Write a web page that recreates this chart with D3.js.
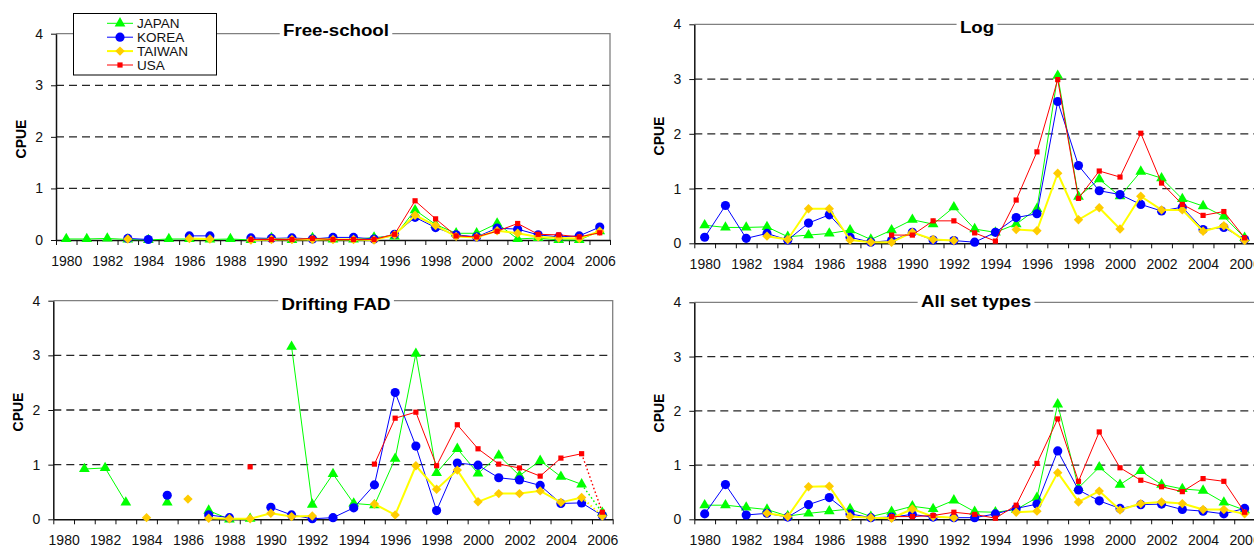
<!DOCTYPE html>
<html>
<head>
<meta charset="utf-8">
<script src="https://cdn.jsdelivr.net/npm/d3@7"></script>
<style>
  html, body { margin: 0; padding: 0; background: #fff; }
  svg { display: block; font-family: "Liberation Sans", Arial, sans-serif; }
</style>
</head>
<body>
<svg id="chart" width="1254" height="547"></svg>
<script>
// ---- data ----
const years = [1980, 1981, 1982, 1983, 1984, 1985, 1986, 1987, 1988, 1989,
               1990, 1991, 1992, 1993, 1994, 1995, 1996, 1997, 1998, 1999,
               2000, 2001, 2002, 2003, 2004, 2005, 2006];
const xLabelYears = [1980, 1982, 1984, 1986, 1988, 1990, 1992, 1994, 1996, 1998, 2000, 2002, 2004, 2006];
const yTicks = [0, 1, 2, 3, 4];
const seriesNames = ["JAPAN", "KOREA", "TAIWAN", "USA"];
const panelTitles = ["Free-school", "Log", "Drifting FAD", "All set types"];
const yAxisTitle = "CPUE";

const freeJapan  = [0.02,0.02,0.03,0.01,0.00,0.02,0.02,0.01,0.02,0.00,0.04,0.00,0.04,0.01,0.01,0.05,0.07,0.58,0.30,0.13,0.13,0.32,0.02,0.04,0.00,0.00,0.17];
const freeKorea  = [null,null,null,0.03,0.01,null,0.08,0.08,null,0.04,0.03,0.04,0.02,0.05,0.05,0.02,0.11,0.44,0.24,0.10,0.06,0.23,0.21,0.10,0.06,0.08,0.25];
const freeTaiwan = [null,null,null,0.02,null,null,0.03,0.02,null,0.00,0.01,0.01,0.01,0.01,0.01,0.00,0.10,0.48,0.28,0.07,0.05,0.18,0.13,0.06,0.04,0.03,0.17];
const freeUsa    = [null,null,null,null,null,null,null,null,null,0.01,0.01,0.01,0.03,0.01,0.01,0.01,0.11,0.76,0.41,0.08,0.06,0.17,0.32,0.11,0.10,0.06,0.14];

const logJapan  = [0.33,0.29,0.29,0.30,0.12,0.15,0.18,0.24,0.07,0.24,0.43,0.35,0.66,0.26,0.20,0.35,0.63,3.06,0.85,1.17,0.86,1.31,1.19,0.81,0.68,0.49,0.10];
const logKorea  = [0.11,0.69,0.09,0.18,0.06,0.37,0.52,0.11,0.02,0.05,0.20,0.06,0.05,0.02,0.20,0.47,0.54,2.59,1.42,0.96,0.89,0.71,0.59,0.66,0.25,0.29,0.07];
const logTaiwan = [null,null,null,0.13,0.07,0.63,0.63,0.06,0.02,0.02,0.20,0.07,0.05,null,null,0.25,0.23,1.28,0.43,0.65,0.26,0.86,0.61,0.61,0.22,0.32,0.05];
const logUsa    = [null,null,null,null,null,null,null,null,null,0.15,0.15,0.41,0.41,0.19,0.04,0.79,1.67,2.99,0.82,1.32,1.21,2.01,1.10,0.71,0.51,0.58,0.10];

const fadJapan  = [null,0.92,0.94,0.31,null,0.31,null,0.16,0.00,0.01,null,3.16,0.27,0.83,0.29,0.26,1.11,3.03,0.85,1.29,0.84,1.17,0.80,1.07,0.78,0.64,0.12];
const fadKorea  = [null,null,null,null,null,0.44,null,0.08,0.03,null,0.22,0.08,0.01,0.03,0.21,0.63,2.32,1.34,0.16,1.03,0.99,0.76,0.72,0.62,0.29,0.30,0.07];
const fadTaiwan = [null,null,null,null,0.03,null,0.37,0.02,0.01,0.01,0.11,0.05,0.06,null,null,0.28,0.08,0.98,0.55,0.90,0.32,0.47,0.47,0.52,0.31,0.40,0.06];
const fadUsa    = [null,null,null,null,null,null,null,null,null,0.96,null,null,null,null,null,1.01,1.85,1.96,0.98,1.73,1.29,1.01,0.94,0.79,1.12,1.20,0.13];
// series whose last segment (2005 -> 2006) is provisional and drawn dotted
const fadProvisional = ["JAPAN", "TAIWAN", "USA"];
// years after which the line is not continued
const fadLineBreaks = { TAIWAN: [1986] };

const allJapan  = [0.26,0.26,0.22,0.18,0.06,0.11,0.15,0.19,0.05,0.14,0.24,0.19,0.35,0.14,0.13,0.18,0.40,2.12,0.58,0.96,0.64,0.89,0.64,0.56,0.53,0.31,0.17];
const allKorea  = [0.10,0.64,0.08,0.11,0.04,0.27,0.40,0.10,0.03,0.04,0.09,0.04,0.03,0.03,0.10,0.20,0.28,1.26,0.54,0.34,0.20,0.27,0.28,0.18,0.15,0.10,0.20];
const allTaiwan = [null,null,null,0.11,0.05,0.60,0.61,0.05,0.03,0.02,0.19,0.05,0.03,null,null,0.13,0.15,0.86,0.32,0.52,0.17,0.29,0.32,0.29,0.18,0.18,0.10];
const allUsa    = [null,null,null,null,null,null,null,null,null,0.05,0.05,0.07,0.13,0.09,0.02,0.26,1.03,1.85,0.70,1.61,0.95,0.72,0.60,0.51,0.75,0.70,0.13];

// ---- appearance ----
const styles = {
  JAPAN:  { line: "#00ff00", width: 1,   fill: "#00ff00", symbol: d3.symbolTriangle, size: 50, rotate: 0 },
  KOREA:  { line: "#0000ff", width: 1,   fill: "#0000ff", symbol: d3.symbolCircle,   size: 66, rotate: 0 },
  TAIWAN: { line: "#ffff00", width: 2,   fill: "#ffcc00", symbol: d3.symbolSquare,   size: 44, rotate: 45 },
  USA:    { line: "#ff0000", width: 1,   fill: "#ff0000", symbol: d3.symbolSquare,   size: 27, rotate: 0 }
};

const panels = [
  { title: panelTitles[0], series: { JAPAN: freeJapan, KOREA: freeKorea, TAIWAN: freeTaiwan, USA: freeUsa },
    l: 56, r: 610, t: 33.7, b: 240, titleX: 336, titleY: 36, cpueX: 21, cpueY: 139, legend: true },
  { title: panelTitles[1], series: { JAPAN: logJapan, KOREA: logKorea, TAIWAN: logTaiwan, USA: logUsa },
    l: 694.3, r: 1255, t: 24.3, b: 243.3, titleX: 977, titleY: 32.7, cpueX: 658.5, cpueY: 136 },
  { title: panelTitles[2], series: { JAPAN: fadJapan, KOREA: fadKorea, TAIWAN: fadTaiwan, USA: fadUsa },
    l: 53.3, r: 612.7, t: 300.7, b: 519.3, titleX: 336, titleY: 309.5, cpueX: 18, cpueY: 412,
    provisional: fadProvisional, breaks: fadLineBreaks },
  { title: panelTitles[3], series: { JAPAN: allJapan, KOREA: allKorea, TAIWAN: allTaiwan, USA: allUsa },
    l: 694.3, r: 1255, t: 302.3, b: 519.3, titleX: 976, titleY: 306.5, cpueX: 658.5, cpueY: 413 }
];

const svg = d3.select("#chart");

function markerPath(name) {
  const st = styles[name];
  return d3.symbol().type(st.symbol).size(st.size)();
}

// split a series into continuous runs (gaps at missing values or explicit breaks)
function runs(pts, breakAfter) {
  const out = [];
  let cur = [];
  pts.forEach(d => {
    if (d.v == null) { if (cur.length) out.push(cur); cur = []; return; }
    cur.push(d);
    if (breakAfter.includes(d.yr)) { out.push(cur); cur = []; }
  });
  if (cur.length) out.push(cur);
  return out;
}

function drawPanel(p) {
  const x = d3.scalePoint().domain(years).range([p.l, p.r]).padding(0.5);
  const y = d3.scaleLinear().domain([0, 4]).range([p.b, p.t]);
  const g = svg.append("g");

  // dashed gridlines
  g.selectAll("line.grid")
    .data(yTicks.filter(v => v > 0 && v < 4))
    .join("line")
    .attr("class", "grid")
    .attr("x1", p.l).attr("x2", p.r)
    .attr("y1", d => y(d)).attr("y2", d => y(d))
    .attr("stroke", "#262626").attr("stroke-width", 1.3)
    .attr("stroke-dasharray", "8,5");

  // plot area frame (top and right)
  g.append("path")
    .attr("d", `M${p.l},${y(4)}H${p.r}V${y(0)}`)
    .attr("fill", "none").attr("stroke", "#808080").attr("stroke-width", 1.3);

  // y axis
  g.append("g")
    .attr("transform", `translate(${p.l},0)`)
    .call(d3.axisLeft(y).tickValues(yTicks).tickSize(5).tickSizeOuter(0).tickPadding(8).tickFormat(d3.format("d")))
    .call(a => {
      a.attr("font-size", 14).attr("font-family", null).attr("color", "#111");
      a.select(".domain").attr("stroke-width", 1.5);
    });

  // x axis: tick marks between categories
  const xb = d3.scaleLinear().domain([0, years.length]).range([p.l, p.r]);
  g.append("g")
    .attr("transform", `translate(0,${p.b})`)
    .call(d3.axisBottom(xb).tickValues(d3.range(0, years.length + 1)).tickSize(5).tickSizeOuter(0).tickFormat(""))
    .call(a => {
      a.attr("color", "#111");
      a.select(".domain").attr("stroke-width", 1.5);
    });

  // x axis: year labels
  g.append("g")
    .attr("transform", `translate(0,${p.b})`)
    .call(d3.axisBottom(x).tickValues(xLabelYears).tickSize(0).tickPadding(16).tickFormat(d3.format("d")))
    .call(a => {
      a.select(".domain").remove();
      a.attr("font-size", 14).attr("font-family", null).attr("color", "#111");
    });

  // y axis title
  g.append("text")
    .attr("transform", `translate(${p.cpueX},${p.cpueY}) rotate(-90)`)
    .attr("text-anchor", "middle").attr("dominant-baseline", "central")
    .attr("font-size", 14).attr("font-weight", "bold")
    .text(yAxisTitle);

  // series
  seriesNames.forEach(name => {
    const st = styles[name];
    const vals = p.series[name];
    const pts = years.map((yr, i) => ({ yr, v: vals[i] }));
    const breakAfter = ((p.breaks && p.breaks[name]) || []).slice();
    let dotted = null;
    if (p.provisional && p.provisional.includes(name)) {
      const def = pts.filter(d => d.v != null);
      const last = def[def.length - 1], prev = def[def.length - 2];
      breakAfter.push(prev.yr);
      dotted = [prev, last];
    }
    const line = d3.line().x(d => x(d.yr)).y(d => y(d.v));
    const sg = g.append("g");
    runs(pts, breakAfter).filter(r => r.length > 1).forEach(r => {
      sg.append("path").attr("d", line(r))
        .attr("fill", "none").attr("stroke", st.line).attr("stroke-width", st.width)
        .attr("stroke-linejoin", "round");
    });
    if (dotted) {
      sg.append("path").attr("d", line(dotted))
        .attr("fill", "none").attr("stroke", st.line).attr("stroke-width", Math.max(1.4, st.width))
        .attr("stroke-dasharray", "1.6,2.4");
    }
    sg.selectAll("path.mk")
      .data(pts.filter(d => d.v != null))
      .join("path")
      .attr("class", "mk")
      .attr("d", markerPath(name))
      .attr("transform", d => `translate(${x(d.yr)},${y(d.v)}) rotate(${st.rotate})`)
      .attr("fill", st.fill);
  });

  // panel title on a white patch over the frame line
  const tg = g.append("g").attr("transform", `translate(${p.titleX},${p.titleY}) scale(1.1,1)`);
  const tt = tg.append("text")
    .attr("text-anchor", "middle")
    .attr("font-size", 17).attr("font-weight", "bold")
    .text(p.title);
  const bb = tt.node().getBBox();
  tg.insert("rect", "text")
    .attr("x", bb.x - 3).attr("y", bb.y).attr("width", bb.width + 6).attr("height", bb.height)
    .attr("fill", "#fff");

  if (p.legend) drawLegend();
}

function drawLegend() {
  const lg = svg.append("g");
  lg.append("rect")
    .attr("x", 73.5).attr("y", 13.5).attr("width", 143).attr("height", 61.5)
    .attr("fill", "#fff").attr("stroke", "#000").attr("stroke-width", 1);
  const rowY = d3.scalePoint().domain(seriesNames).range([23.3, 65]);
  seriesNames.forEach(name => {
    const st = styles[name];
    const cy = rowY(name);
    lg.append("line").attr("x1", 107).attr("x2", 133).attr("y1", cy).attr("y2", cy)
      .attr("stroke", st.line).attr("stroke-width", st.width);
    lg.append("path").attr("d", markerPath(name))
      .attr("transform", `translate(120,${cy}) rotate(${st.rotate})`)
      .attr("fill", st.fill);
    lg.append("text").attr("x", 137).attr("y", cy).attr("dy", "0.36em")
      .attr("font-size", 13.5).attr("fill", "#111")
      .text(name);
  });
}

panels.forEach(drawPanel);
</script>
</body>
</html>
